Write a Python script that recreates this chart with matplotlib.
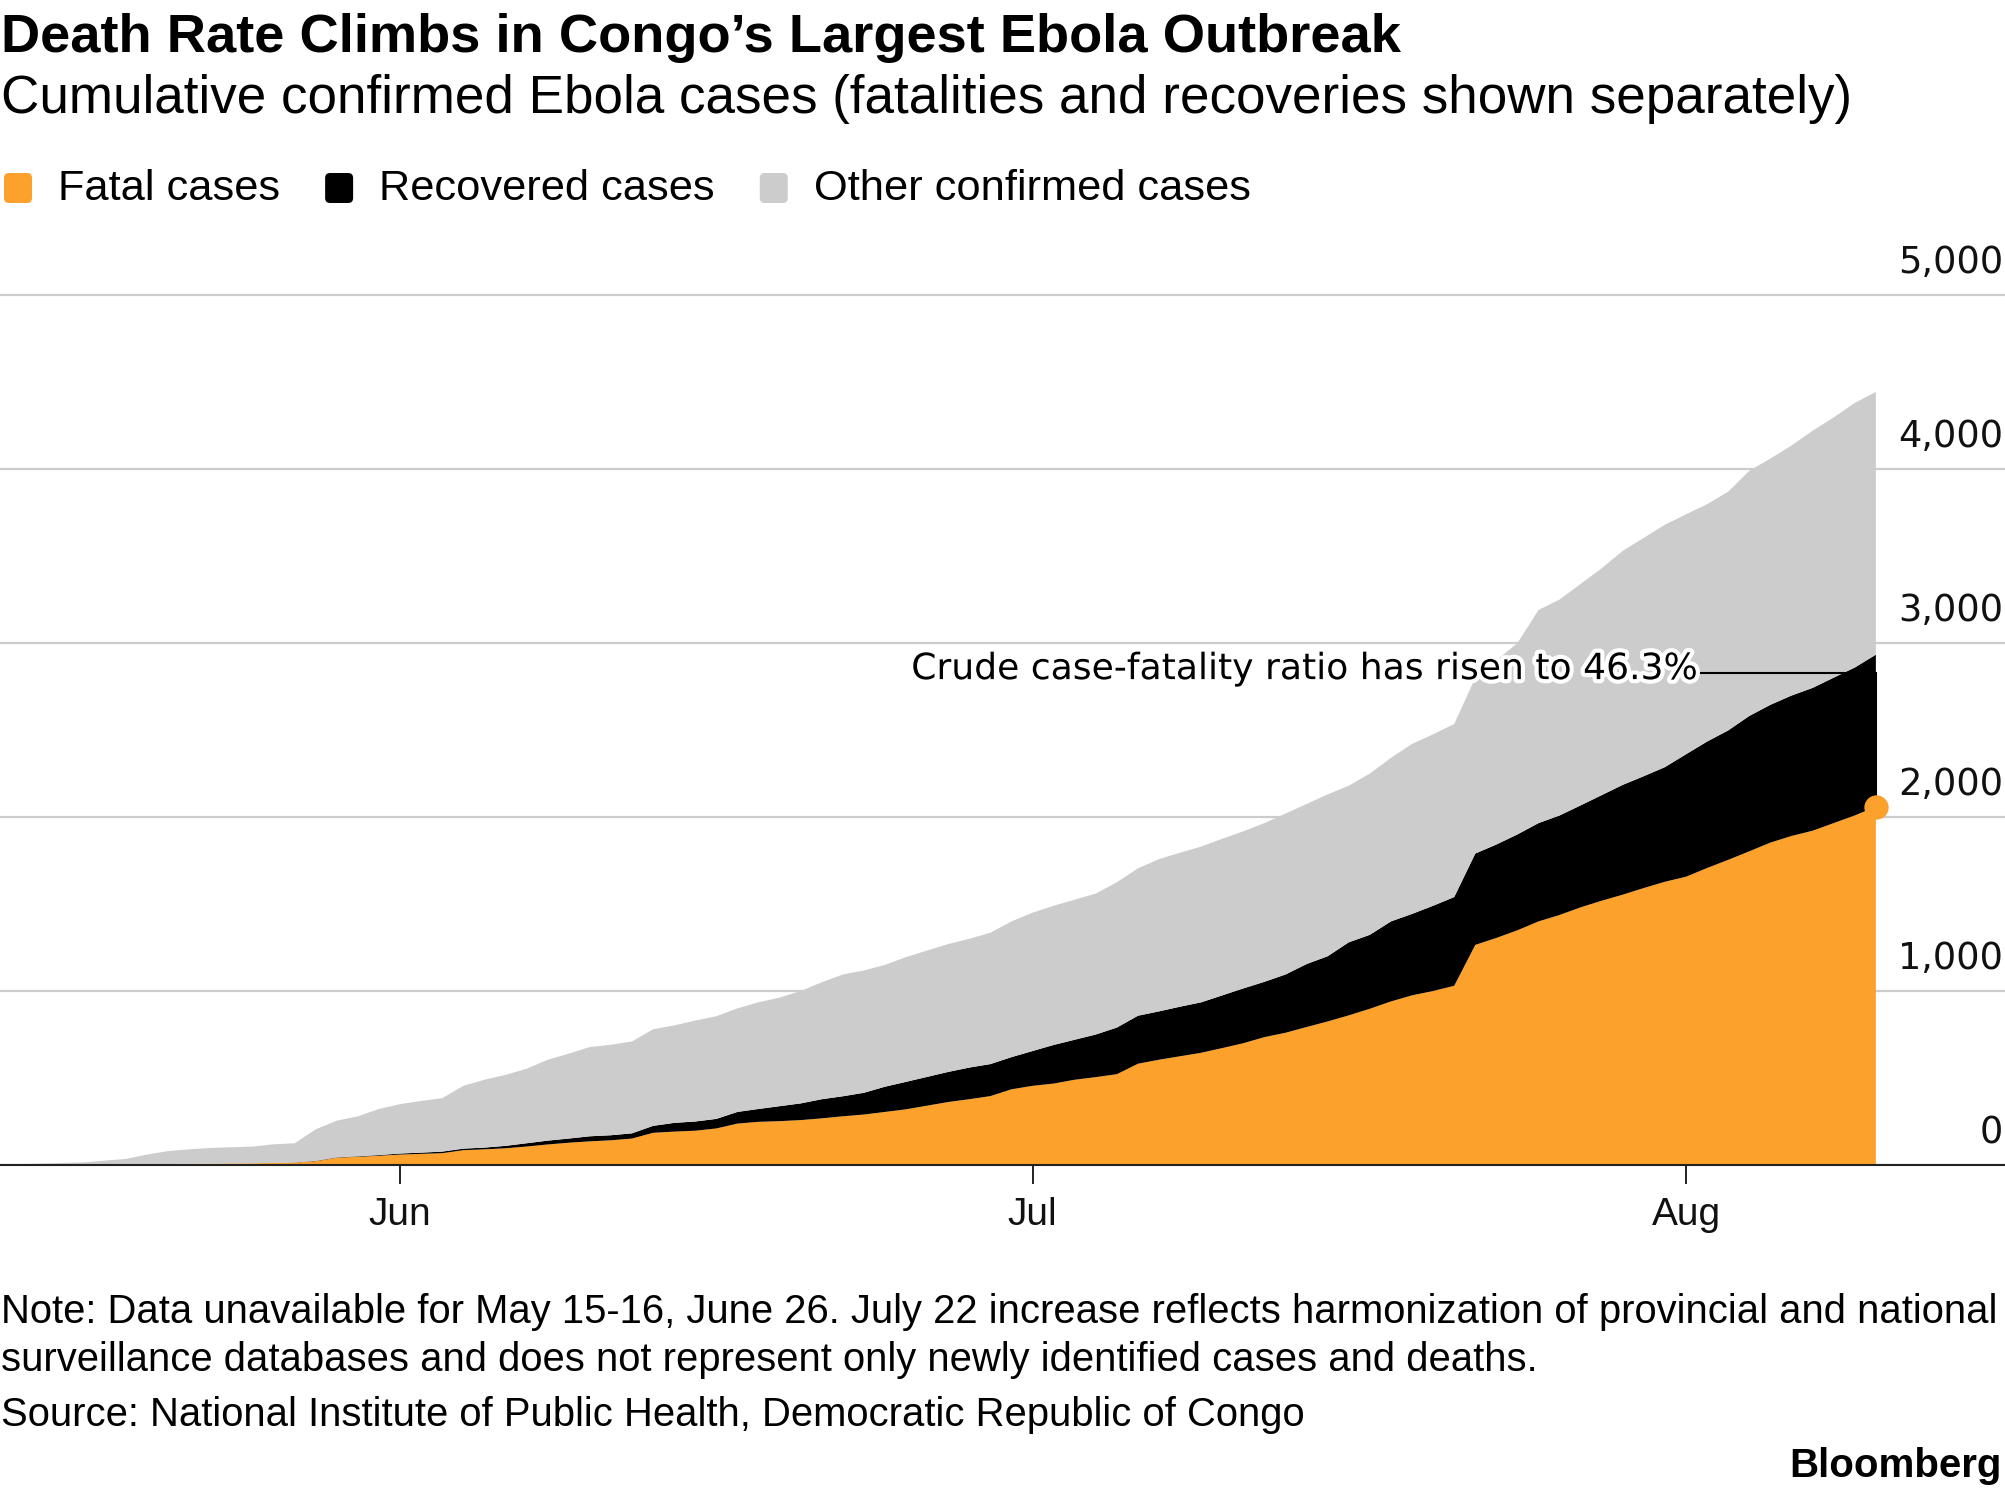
import matplotlib
matplotlib.use("Agg")
import matplotlib.pyplot as plt
import matplotlib.dates as mdates
import matplotlib.patheffects as pe
from matplotlib.patches import FancyBboxPatch
from matplotlib.transforms import IdentityTransform, offset_copy
import pandas as pd

# daily DRC Ebola counts, gaps where no report was published
missing_days = ["2019-05-15", "2019-05-16", "2019-06-26"]
dates = pd.date_range("2019-05-14", "2019-08-10").drop(pd.to_datetime(missing_days))

fatal = [
    0,
    2, 3, 4, 5, 6, 7, 8, 9, 10, 12, 14, 22, 42, 47, 53,
    60, 64, 68, 85, 90, 96, 106, 118, 128, 136, 142, 152, 185, 192, 197,
    210, 238, 248, 252, 258, 268, 280, 290, 305, 320,
    362, 378, 396, 435,
    455, 468, 490, 505, 522, 582, 605, 625, 645, 672, 700, 735, 760, 793,
    825, 860, 898, 940, 975, 1000, 1030, 1265, 1305, 1349, 1400, 1437,
    1481, 1519, 1554, 1592, 1628,
    1657, 1707, 1754, 1803, 1853, 1891, 1921, 1965, 2009, 2059,
]
recovered = [
    0,
    0, 0, 0, 0, 0, 0, 0, 0, 0, 0, 1, 2, 2, 3, 4,
    6, 7, 9, 9, 10, 14, 19, 22, 24, 29, 29, 30, 40, 50, 53,
    55, 67, 74, 86, 96, 110, 115, 125, 145, 158,
    173, 182, 184, 185,
    200, 222, 230, 245, 268, 276, 278, 285, 290, 303, 315, 318, 335, 362,
    375, 420, 425, 460, 468, 490, 510, 525, 537, 551, 565, 572,
    586, 607, 631, 643, 659,
    704, 727, 744, 778, 792, 807, 821, 836, 850, 874,
]
total_confirmed = [
    5,
    15, 25, 35, 60, 80, 90, 98, 102, 106, 119, 125, 205, 255, 280, 322,
    350, 368, 384, 455, 490, 518, 553, 605, 640, 678, 691, 710, 780, 802, 830,
    855, 900, 935, 962, 1000, 1050, 1095, 1118, 1150, 1195,
    1270, 1300, 1335, 1400,
    1450, 1490, 1525, 1560, 1625, 1705, 1758, 1795, 1830, 1875, 1918, 1965,
    2020, 2075, 2130, 2180, 2250, 2340, 2420, 2475, 2535, 2800, 2900, 3000,
    3190, 3250, 3340, 3430, 3530, 3605, 3680,
    3740, 3798, 3870, 3990, 4060, 4135, 4220, 4296, 4380, 4443,
]
other = [t - f - r for t, f, r in zip(total_confirmed, fatal, recovered)]

series_labels = ["Fatal cases", "Recovered cases", "Other confirmed cases"]
series_colors = ["#fca12b", "#000000", "#cccccc"]
y_ticks = [0, 1000, 2000, 3000, 4000, 5000]
month_ticks = ["2019-06-01", "2019-07-01", "2019-08-01"]
cfr_text = "Crude case-fatality ratio has risen to 46.3%"
cfr_level = 2830

title = "Death Rate Climbs in Congo\u2019s Largest Ebola Outbreak"
subtitle = "Cumulative confirmed Ebola cases (fatalities and recoveries shown separately)"
note_lines = [
    "Note: Data unavailable for May 15-16, June 26. July 22 increase reflects harmonization of provincial and national",
    "surveillance databases and does not represent only newly identified cases and deaths.",
    "Source: National Institute of Public Health, Democratic Republic of Congo",
]

plt.rcParams["font.family"] = ["Liberation Sans", "DejaVu Sans"]

W, H = 2005, 1494
fig = plt.figure(figsize=(W / 100, H / 100), dpi=100)


def fy(px):
    return 1 - px / H


base_px, top_px, px_per_1000 = 1165, 250, 174
ax = fig.add_axes([0, fy(base_px), 1, (base_px - top_px) / H])
ax.stackplot(dates, fatal, recovered, other, colors=series_colors,
             linewidth=0, zorder=1)
ax.set_ylim(0, 1000 * (base_px - top_px) / px_per_1000)
ax.set_xlim(pd.Timestamp("2019-05-13 00:30"), pd.Timestamp("2019-08-16 03:00"))

# gridlines and right-hand labels sitting above each line
ax.set_yticks(y_ticks)
ax.yaxis.grid(True, color="#cccccc", linewidth=1.6)
ax.set_axisbelow(True)
ax.tick_params(axis="y", length=0, labelleft=False, labelright=False)
lab_trans = offset_copy(ax.get_yaxis_transform(), fig=fig, x=-1.5, y=15.8,
                        units="points")
for v in y_ticks:
    ax.text(1, v, f"{v:,}", transform=lab_trans, ha="right", va="baseline",
            fontsize=26.5, family="DejaVu Sans", color="#111111")

ax.set_xticks(pd.to_datetime(month_ticks))
ax.xaxis.set_major_formatter(mdates.DateFormatter("%b"))
ax.tick_params(axis="x", direction="out", length=14, width=1.4,
               color="#222222", pad=9.3, labelsize=28, labelcolor="#111111")

for side in ["top", "left", "right"]:
    ax.spines[side].set_visible(False)
ax.spines["bottom"].set_color("#222222")
ax.spines["bottom"].set_linewidth(1.5)

# end dot and elbow callout for the fatality ratio
x_end = dates[-1]
x_text = x_end - pd.Timedelta(days=8.45)
ax.plot([x_text, x_end, x_end], [cfr_level, cfr_level, fatal[-1]],
        color="black", linewidth=1.5, zorder=4, solid_joinstyle="miter")
ax.plot(x_end, fatal[-1], "o", color=series_colors[0], markersize=16.5,
        clip_on=False, zorder=5)
txt_trans = offset_copy(ax.transData, fig=fig, x=0, y=-4.7, units="points")
ax.text(x_text, cfr_level, cfr_text, transform=txt_trans, ha="right",
        va="baseline", fontsize=26, family="DejaVu Sans", zorder=6,
        path_effects=[pe.withStroke(linewidth=6, foreground="white")])

# titles
fig.text(0.0005, fy(52), title, fontsize=39.1, weight="bold", va="baseline")
fig.text(0.0005, fy(113), subtitle, fontsize=38.2, va="baseline")

# legend laid out left to right
renderer = fig.canvas.get_renderer()
x = 4
for label, color in zip(series_labels, series_colors):
    fig.patches.append(FancyBboxPatch(
        (x, H - 203), 28, 30, boxstyle="round,pad=0,rounding_size=5",
        transform=IdentityTransform(), facecolor=color, edgecolor="none"))
    t = fig.text((x + 54) / W, fy(200), label, fontsize=31.2, va="baseline")
    x = t.get_window_extent(renderer).x1 + 45

for line, px in zip(note_lines, [1323, 1371, 1426]):
    fig.text(0.0005, fy(px), line, fontsize=28.8, va="baseline")
fig.text(2002 / W, fy(1477), "Bloomberg", fontsize=29, weight="bold",
         ha="right", va="baseline")

fig.savefig("out.png", dpi=100)
